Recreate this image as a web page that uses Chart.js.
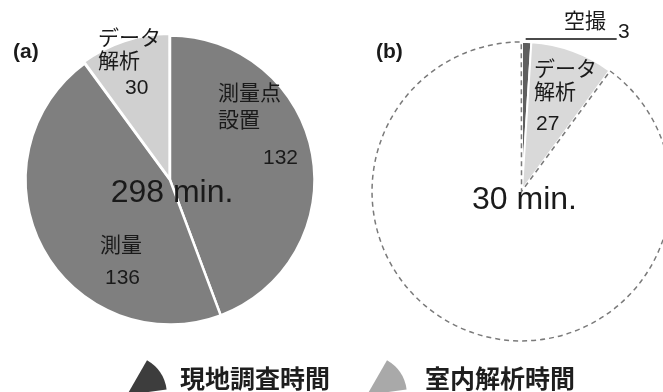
<!DOCTYPE html>
<html lang="ja">
<head>
<meta charset="utf-8">
<script src="https://cdn.jsdelivr.net/npm/chart.js@4.4.1/dist/chart.umd.min.js"></script>
<style>
  html, body { margin: 0; padding: 0; background: #fff; }
  body { width: 663px; height: 392px; position: relative; overflow: hidden;
         font-family: "Liberation Sans", "Noto Sans CJK JP", sans-serif; }
  #chartA { position: absolute; left: 0; top: 0; }
  #chartB { position: absolute; left: 357px; top: 0; }
  .legend canvas { position: absolute; top: 356px; }
  .legend span { position: absolute; top: 359px; line-height: 30px;
                 font: bold 25px "Noto Sans CJK JP", sans-serif; color: #1e1e1e; }
</style>
</head>
<body>
<canvas id="chartA" width="340" height="360"></canvas>
<canvas id="chartB" width="330" height="380"></canvas>
<div class="legend">
  <canvas id="legIcon0" width="44" height="36" style="left:126px"></canvas>
  <span id="legText0" style="left:180px"></span>
  <canvas id="legIcon1" width="44" height="36" style="left:366px"></canvas>
  <span id="legText1" style="left:425px"></span>
</div>
<script>
// --- data (a): field survey + indoor analysis, total minutes ---
const labelsA = ["測量点設置", "測量", "データ解析"];
const linesA = [["測量点", "設置"], ["測量"], ["データ", "解析"]];
const valuesA = [132, 136, 30];

// --- data (b): drawn on the same 298 min. scale ---
const labelsB = ["空撮", "データ解析"];
const linesB = [["空撮"], ["データ", "解析"]];
const valuesB = [3, 27];

// legend groups
const legendLabels = ["現地調査時間", "室内解析時間"];
const legendColors = ["#3d3d3d", "#a9a9a9"];

const sum = arr => arr.reduce((a, b) => a + b, 0);
const totalA = sum(valuesA);
const totalB = sum(valuesB);

const labelFont = '21px "Liberation Sans", "Noto Sans CJK JP", sans-serif';
const centerFont = '32px "Liberation Sans", "Noto Sans CJK JP", sans-serif';
const panelFont = 'bold 21px "Liberation Sans", sans-serif';

// text labels relative to pie centre
const plugin = {
  id: "sliceLabels",
  afterDatasetsDraw(chart, args, opts) {
    const arcs = chart.getDatasetMeta(0).data;
    const cx = arcs[0].x, cy = arcs[0].y;
    const ctx = chart.ctx;
    ctx.save();
    ctx.fillStyle = "#1a1a1a";
    ctx.textBaseline = "middle";
    ctx.textAlign = "left";

    // leader line (空撮)
    if (opts.leader) {
      const a = arcs[opts.leader.index];
      const mid = (a.startAngle + a.endAngle) / 2;
      const r = a.outerRadius;
      const x0 = cx + r * Math.cos(mid), y0 = cy + r * Math.sin(mid) - 3;
      ctx.strokeStyle = "#4a4a4a";
      ctx.lineWidth = 2;
      ctx.beginPath();
      ctx.moveTo(x0 - 1, y0);
      ctx.lineTo(x0 + opts.leader.length, y0);
      ctx.stroke();
    }

    ctx.font = labelFont;
    opts.lines.forEach((lines, i) => {
      const p = opts.place[i];
      lines.forEach((t, k) => ctx.fillText(t, cx + p.dx, cy + p.dy + k * p.lh));
      ctx.fillText(String(opts.values[i]), cx + p.vdx, cy + p.vdy);
    });

    ctx.font = centerFont;
    ctx.textAlign = "center";
    ctx.fillText(opts.center, cx + opts.centerPos[0], cy + opts.centerPos[1]);

    ctx.font = panelFont;
    ctx.textAlign = "left";
    ctx.fillText(opts.panel, opts.panelPos[0], opts.panelPos[1]);
    ctx.restore();
  }
};

new Chart(document.getElementById("chartA"), {
  type: "pie",
  data: {
    labels: labelsA,
    datasets: [{
      data: valuesA,
      backgroundColor: ["#7f7f7f", "#7f7f7f", "#d0d0d0"],
      borderColor: "#fff",
      borderWidth: 2.5,
      offset: [0, 0, 5]
    }]
  },
  options: {
    responsive: false,
    animation: false,
    events: [],
    radius: 144.5,
    plugins: {
      legend: { display: false },
      tooltip: { enabled: false },
      sliceLabels: {
        lines: linesA,
        values: valuesA,
        place: [
          { dx: 48, dy: -86, lh: 27, vdx: 93, vdy: -22 },
          { dx: -70, dy: 66, lh: 25, vdx: -65, vdy: 98 },
          { dx: -72, dy: -141, lh: 23, vdx: -45, vdy: -92 }
        ],
        center: totalA + " min.",
        centerPos: [2, 13],
        panel: "(a)",
        panelPos: [13, 52]
      }
    }
  },
  plugins: [plugin]
});

new Chart(document.getElementById("chartB"), {
  type: "pie",
  data: {
    labels: labelsB.concat([""]),
    datasets: [{
      // remainder of the 298 min. scale shown as the dashed outline
      data: valuesB.concat([totalA - totalB]),
      backgroundColor: ["#5f5f5f", "#d9d9d9", "rgba(255,255,255,0)"],
      borderColor: ["#fff", "#fff", "#7a7a7a"],
      borderWidth: [2, 2, 1.5],
      borderDash: ctx => ctx.dataIndex === 2 ? [5, 4] : [],
      borderJoinStyle: "miter",
      offset: [0, 0, 6]
    }]
  },
  options: {
    responsive: false,
    animation: false,
    events: [],
    radius: 148,
    plugins: {
      legend: { display: false },
      tooltip: { enabled: false },
      sliceLabels: {
        lines: linesB,
        values: valuesB,
        place: [
          { dx: 42, dy: -168, lh: 0, vdx: 96, vdy: -158 },
          { dx: 12, dy: -120, lh: 23, vdx: 14, vdy: -66 }
        ],
        leader: { index: 0, length: 90 },
        center: totalB + " min.",
        centerPos: [2.5, 10],
        panel: "(b)",
        panelPos: [19, 52]
      }
    }
  },
  plugins: [plugin]
});

// legend: wedge icons + bold labels
legendLabels.forEach((t, i) => {
  document.getElementById("legText" + i).textContent = t;
  const c = document.getElementById("legIcon" + i).getContext("2d");
  c.fillStyle = legendColors[i];
  c.beginPath();
  c.moveTo(1, 39);
  c.arc(1, 39, 40, -60 * Math.PI / 180, -8 * Math.PI / 180);
  c.closePath();
  c.fill();
});
</script>
</body>
</html>
